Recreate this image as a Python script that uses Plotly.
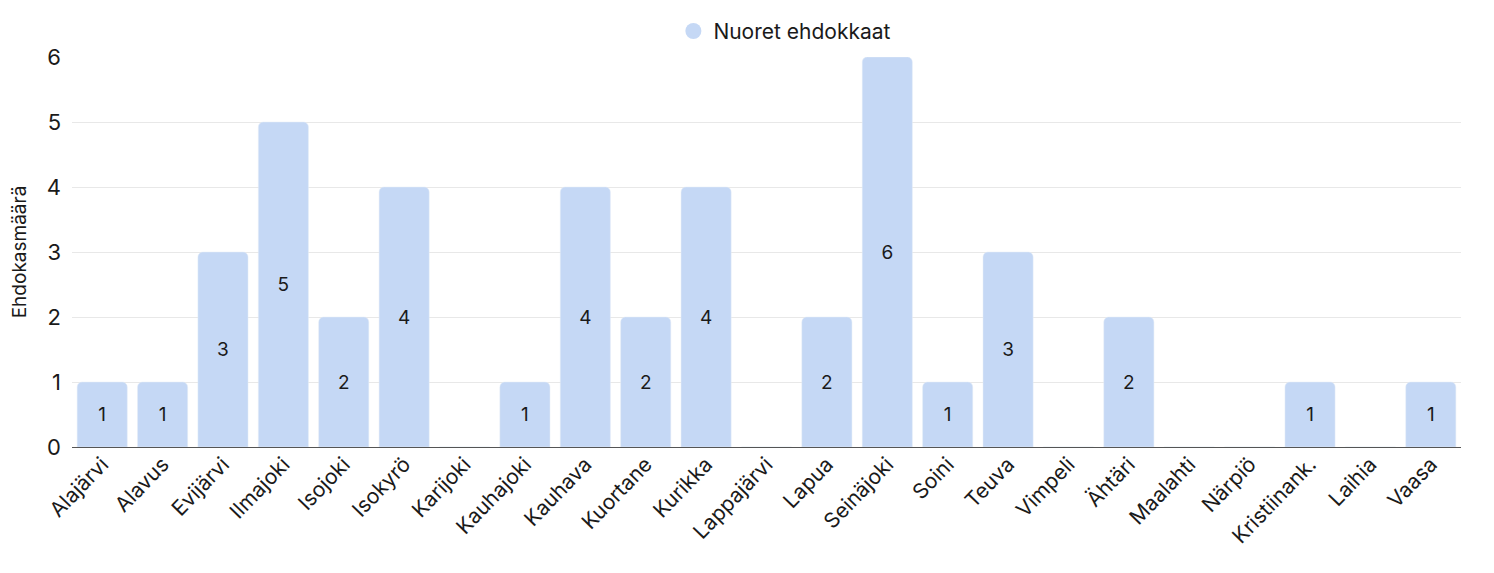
import plotly.graph_objects as go

categories = ["Alajärvi", "Alavus", "Evijärvi", "Ilmajoki", "Isojoki", "Isokyrö", "Karijoki",
              "Kauhajoki", "Kauhava", "Kuortane", "Kurikka", "Lappajärvi", "Lapua", "Seinäjoki",
              "Soini", "Teuva", "Vimpeli", "Ähtäri", "Maalahti", "Närpiö", "Kristiinank.",
              "Laihia", "Vaasa"]
values = [1, 1, 3, 5, 2, 4, 0, 1, 4, 2, 4, 0, 2, 6, 1, 3, 0, 2, 0, 0, 1, 0, 1]
labels = [str(v) if v > 0 else "" for v in values]
series_name = "Nuoret ehdokkaat"
y_ticks = [0, 1, 2, 3, 4, 5, 6]
bar_color = "#c5d8f5"

fig = go.Figure()
fig.add_trace(go.Bar(
    x=categories, y=values, name=series_name,
    marker=dict(color=bar_color, cornerradius=5),
    text=labels, textposition="inside", insidetextanchor="middle",
    textfont=dict(color="#1a1a1a", size=19, family="Inter"),
    showlegend=False,
))
# legend entry with circular marker
fig.add_trace(go.Scatter(
    x=[None], y=[None], mode="markers", name=series_name,
    marker=dict(color=bar_color, size=17, symbol="circle"),
    showlegend=True,
))

fig.update_layout(
    width=1494, height=573,
    paper_bgcolor="white", plot_bgcolor="white",
    margin=dict(l=64, r=41, t=49, b=134, autoexpand=False),
    bargap=0.17,
    font=dict(family="Inter", color="#1a1a1a"),
    legend=dict(orientation="h", xref="container", x=0.52, xanchor="center",
                yref="container", y=0.995, yanchor="top",
                font=dict(size=21)),
    xaxis=dict(tickangle=-46, tickfont=dict(size=21), showgrid=False,
               showline=False, ticks="", automargin=False),
    yaxis=dict(range=[0, 6], tickvals=y_ticks, tickfont=dict(size=22),
               ticklabelstandoff=10,
               gridcolor="#e8e8e8", zeroline=True, zerolinecolor="#555555",
               zerolinewidth=1, ticks="", automargin=False,
               title=dict(text="Ehdokasmäärä", font=dict(size=19), standoff=22)),
)

fig.write_html("out.html")
